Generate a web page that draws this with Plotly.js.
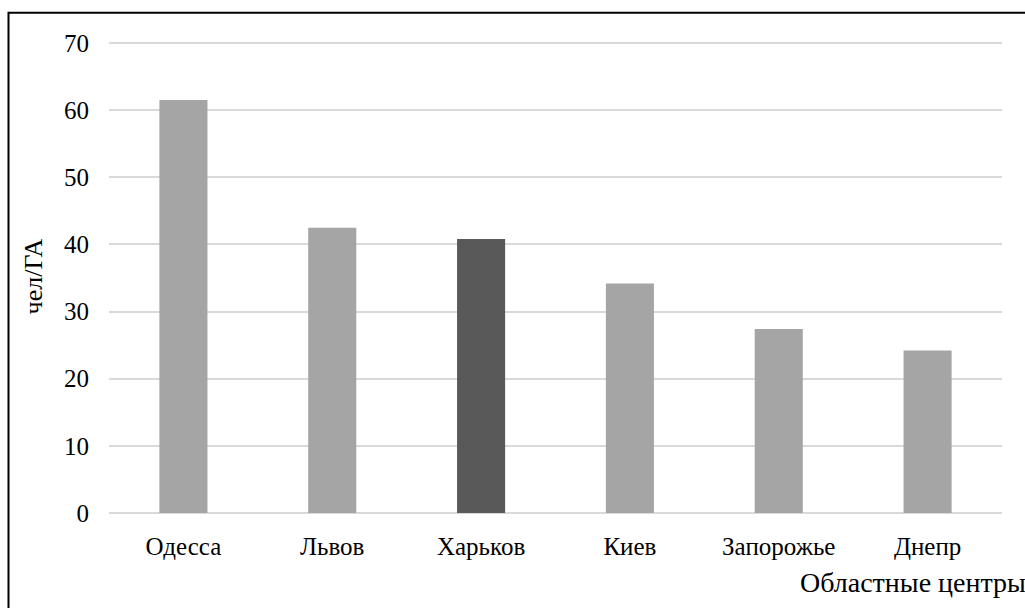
<!DOCTYPE html>
<html>
<head>
<meta charset="utf-8">
<script src="https://cdn.plot.ly/plotly-3.0.1.min.js"></script>
<style>html,body{margin:0;padding:0;background:#fff;}#chart{width:1025px;height:608px;}</style>
</head>
<body>
<div id="chart"></div>
<script>
var categories = ['Одесса', 'Львов', 'Харьков', 'Киев', 'Запорожье', 'Днепр'];
var values = [61.5, 42.5, 40.8, 34.2, 27.4, 24.2];
var barColors = ['#a5a5a5', '#a5a5a5', '#595959', '#a5a5a5', '#a5a5a5', '#a5a5a5'];
var yTicks = [0, 10, 20, 30, 40, 50, 60, 70];
var yTitle = 'чел/ГА';
var xTitle = 'Областные центры';

var FONT = '"Liberation Serif", "Times New Roman", Times, serif';

var trace = {
  type: 'bar',
  x: categories,
  y: values,
  width: 0.323,
  marker: {color: barColors, line: {width: 0}},
  hoverinfo: 'x+y'
};

var layout = {
  width: 1025,
  height: 608,
  margin: {l: 109, r: 23, t: 40.3, b: 95},
  paper_bgcolor: '#ffffff',
  plot_bgcolor: '#ffffff',
  showlegend: false,
  font: {family: FONT, size: 25, color: '#000000'},
  xaxis: {
    type: 'category',
    showgrid: false,
    zeroline: false,
    showline: false,
    ticks: 'outside',
    ticklen: 11,
    tickcolor: 'rgba(0,0,0,0)',
    tickfont: {family: FONT, size: 25, color: '#000000'}
  },
  yaxis: {
    range: [0, 70.45],
    tickvals: yTicks,
    ticktext: yTicks.map(String),
    showgrid: true,
    gridcolor: '#d9d9d9',
    gridwidth: 2,
    zeroline: true,
    zerolinecolor: '#d9d9d9',
    zerolinewidth: 2,
    showline: false,
    ticks: 'outside',
    ticklen: 14,
    tickcolor: 'rgba(0,0,0,0)',
    tickfont: {family: FONT, size: 25, color: '#000000'},
    title: {text: yTitle, font: {family: FONT, size: 26, color: '#000000'}, standoff: 13}
  },
  annotations: [{
    text: xTitle,
    xref: 'paper', yref: 'paper',
    x: (798 - 109) / 893, y: -(583 - 513.3) / 473,
    xanchor: 'left', yanchor: 'middle',
    showarrow: false,
    font: {family: FONT, size: 28, color: '#000000'}
  }],
  shapes: [{
    type: 'rect',
    xref: 'paper', yref: 'paper',
    x0: (8.5 - 109) / 893, x1: 1.2,
    y0: -0.4, y1: 1 + (40.3 - 13) / 473,
    line: {color: '#000000', width: 2},
    fillcolor: 'rgba(0,0,0,0)',
    layer: 'above'
  }]
};

Plotly.newPlot('chart', [trace], layout, {displayModeBar: false, staticPlot: true});
</script>
</body>
</html>
